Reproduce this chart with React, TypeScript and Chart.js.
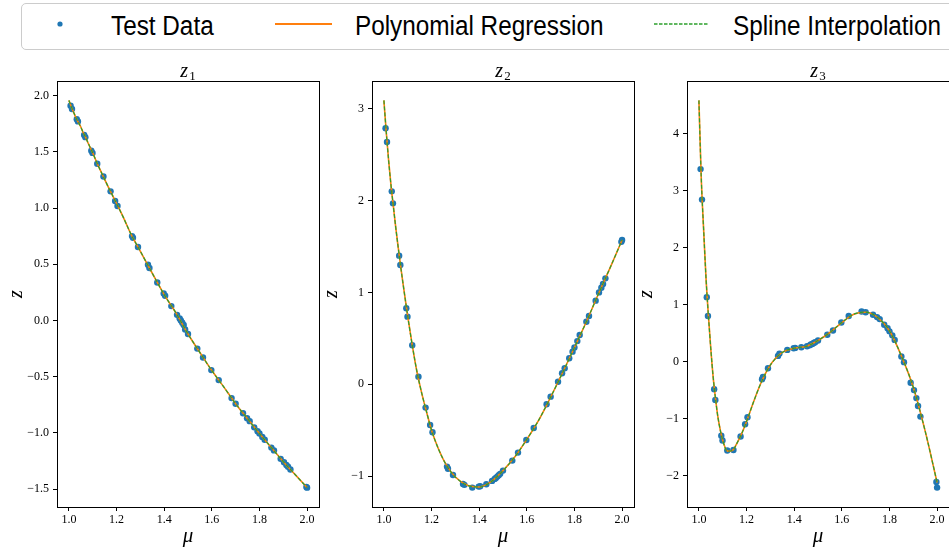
import React, { useEffect, useRef } from "react";
import { Chart, registerables } from "chart.js";

Chart.register(...registerables);

// ---------- data ----------
const muTest = [
  1.007, 1.013, 1.033, 1.038, 1.064, 1.069, 1.094, 1.099, 1.119, 1.145,
  1.175, 1.194, 1.204, 1.265, 1.269, 1.29, 1.332, 1.338, 1.371, 1.398,
  1.404, 1.43, 1.454, 1.465, 1.47, 1.476, 1.482, 1.488, 1.5, 1.539,
  1.563, 1.598, 1.629, 1.683, 1.7, 1.731, 1.748, 1.759, 1.778, 1.792,
  1.8, 1.812, 1.822, 1.85, 1.861, 1.889, 1.903, 1.913, 1.92, 1.93,
  1.997, 2.0,
];

const z1Test = [
  1.91, 1.88, 1.79, 1.77, 1.65, 1.63, 1.51, 1.49, 1.394, 1.28,
  1.148, 1.062, 1.018, 0.75, 0.735, 0.653, 0.496, 0.466, 0.338, 0.24,
  0.22, 0.128, 0.05, 0.018, 0.0, -0.02, -0.04, -0.08, -0.12, -0.25,
  -0.329, -0.441, -0.53, -0.69, -0.74, -0.824, -0.868, -0.895, -0.95, -0.985,
  -1.005, -1.035, -1.06, -1.13, -1.155, -1.23, -1.26, -1.285, -1.3, -1.325,
  -1.48, -1.486,
];

const z2Test = [
  2.786, 2.637, 2.1, 1.969, 1.4, 1.298, 0.827, 0.736, 0.424, 0.083,
  -0.254, -0.443, -0.522, -0.896, -0.92, -0.987, -1.085, -1.095, -1.125, -1.114,
  -1.11, -1.088, -1.052, -1.03, -1.02, -1.005, -0.99, -0.975, -0.94, -0.831,
  -0.744, -0.606, -0.476, -0.218, -0.135, 0.028, 0.12, 0.174, 0.283, 0.355,
  0.4, 0.47, 0.536, 0.681, 0.743, 0.91, 1.0, 1.05, 1.091, 1.153,
  1.55, 1.57,
];

const z3Test = [
  3.375, 2.84, 1.13, 0.8, -0.485, -0.672, -1.3, -1.385, -1.56, -1.55,
  -1.315, -1.1, -0.975, -0.31, -0.27, -0.117, 0.1, 0.14, 0.205, 0.235,
  0.24, 0.25, 0.27, 0.285, 0.3, 0.31, 0.325, 0.34, 0.37, 0.47,
  0.545, 0.685, 0.8, 0.877, 0.865, 0.82, 0.78, 0.745, 0.645, 0.585,
  0.53, 0.46, 0.38, 0.088, -0.01, -0.37, -0.5, -0.64, -0.78, -0.965,
  -2.11, -2.21,
];

const muCurve = [
  1.0, 1.01, 1.02, 1.03, 1.04, 1.05, 1.06, 1.07, 1.08, 1.1,
  1.12, 1.14, 1.16, 1.18, 1.2, 1.23, 1.26, 1.3, 1.35, 1.4,
  1.45, 1.5, 1.55, 1.6, 1.65, 1.7, 1.75, 1.8, 1.85, 1.9,
  1.95, 2.0,
];

const z1Poly = [
  1.957, 1.9, 1.85, 1.8, 1.76, 1.72, 1.67, 1.63, 1.58, 1.49,
  1.39, 1.3, 1.21, 1.125, 1.04, 0.91, 0.77, 0.615, 0.42, 0.23,
  0.065, -0.12, -0.285, -0.445, -0.59, -0.74, -0.873, -1.005, -1.13, -1.255,
  -1.37, -1.486,
];
const z1Spline = [
  1.957, 1.9, 1.85, 1.8, 1.76, 1.72, 1.67, 1.63, 1.58, 1.49,
  1.39, 1.3, 1.21, 1.125, 1.04, 0.91, 0.77, 0.615, 0.42, 0.23,
  0.065, -0.12, -0.285, -0.445, -0.59, -0.74, -0.873, -1.005, -1.13, -1.255,
  -1.37, -1.486,
];

const z2Poly = [
  3.09, 2.74, 2.43, 2.16, 1.93, 1.7, 1.49, 1.29, 1.1, 0.74,
  0.41, 0.12, -0.11, -0.31, -0.5, -0.71, -0.87, -1.01, -1.1, -1.118,
  -1.06, -0.94, -0.79, -0.6, -0.39, -0.14, 0.125, 0.4, 0.68, 0.98,
  1.27, 1.57,
];
const z2Spline = [
  3.09, 2.74, 2.43, 2.16, 1.93, 1.7, 1.49, 1.29, 1.1, 0.74,
  0.41, 0.12, -0.11, -0.31, -0.5, -0.71, -0.87, -1.01, -1.1, -1.118,
  -1.06, -0.94, -0.79, -0.6, -0.39, -0.14, 0.125, 0.4, 0.68, 0.98,
  1.27, 1.57,
];

const z3Poly = [
  4.58, 3.2, 2.3, 1.45, 0.8, 0.22, -0.28, -0.66, -0.98, -1.38,
  -1.57, -1.56, -1.43, -1.26, -1.05, -0.7, -0.38, -0.06, 0.16, 0.235,
  0.265, 0.37, 0.51, 0.685, 0.83, 0.866, 0.775, 0.54, 0.1, -0.45,
  -1.22, -2.12,
];
const z3Spline = [
  4.58, 3.2, 2.3, 1.45, 0.8, 0.22, -0.28, -0.66, -0.98, -1.38,
  -1.57, -1.56, -1.43, -1.26, -1.05, -0.7, -0.38, -0.06, 0.16, 0.235,
  0.265, 0.37, 0.51, 0.685, 0.83, 0.866, 0.775, 0.54, 0.1, -0.45,
  -1.22, -2.12,
];

const xTicks = [1.0, 1.2, 1.4, 1.6, 1.8, 2.0];
const yTicks1 = [-1.5, -1.0, -0.5, 0.0, 0.5, 1.0, 1.5, 2.0];
const yTicks2 = [-1, 0, 1, 2, 3];
const yTicks3 = [-2, -1, 0, 1, 2, 3, 4];

const legendLabels = ["Test Data", "Polynomial Regression", "Spline Interpolation"];

// ---------- styles ----------
const BLUE = "#1f77b4";
const ORANGE = "#ff7f0e";
const GREEN = "#2ca02c";
const SERIF = '"Liberation Serif", "DejaVu Serif", serif';
const SANS = '"Liberation Sans", "DejaVu Sans", sans-serif';

const PLOT_W = 262;
const PLOT_TOP = 81;
const PLOT_BOTTOM = 507;
const Y_AXIS_W = 50;
const X_AXIS_H = 41;
const PAD_TOP = 26;
const PAD_RIGHT = 10;
const CANVAS_TOP = PLOT_TOP - PAD_TOP;
const CANVAS_W = Y_AXIS_W + PLOT_W + PAD_RIGHT;
const CANVAS_H = PLOT_BOTTOM - CANVAS_TOP + X_AXIS_H;

const fmt = (v: number, d: number) => v.toFixed(d).replace("-", "\u2212");

type PanelProps = {
  left: number;
  sub: string;
  test: number[];
  poly: number[];
  spline: number[];
  yTicks: number[];
  yMin: number;
  yMax: number;
  decimals: number;
};

function Panel({ left, sub, test, poly, spline, yTicks, yMin, yMax, decimals }: PanelProps) {
  const ref = useRef<HTMLCanvasElement | null>(null);

  useEffect(() => {
    const canvas = ref.current;
    if (!canvas) return;

    const framePlugin = {
      id: "frame" + sub,
      afterDraw(chart: any) {
        const { ctx, chartArea } = chart;
        const { left: l, top: t, right: r, bottom: b } = chartArea;
        ctx.save();
        ctx.strokeStyle = "#000";
        ctx.lineWidth = 1;
        ctx.strokeRect(Math.round(l) + 0.5, Math.round(t) + 0.5, Math.round(r - l), Math.round(b - t));
        // title: z with subscript
        const cx = (l + r) / 2;
        ctx.fillStyle = "#000";
        ctx.textBaseline = "alphabetic";
        ctx.font = `italic 20px ${SERIF}`;
        const wz = ctx.measureText("z").width;
        ctx.font = `13px ${SERIF}`;
        const ws = ctx.measureText(sub).width;
        const x0 = cx - (wz + ws + 1) / 2;
        ctx.font = `italic 20px ${SERIF}`;
        ctx.fillText("z", x0, t - 4);
        ctx.font = `13px ${SERIF}`;
        ctx.fillText(sub, x0 + wz + 1, t - 1.5);
        ctx.restore();
      },
    };

    const chart = new Chart(canvas, {
      type: "line",
      data: {
        datasets: [
          {
            label: legendLabels[2],
            data: muCurve.map((x, i) => ({ x, y: spline[i] })),
            borderColor: GREEN,
            backgroundColor: GREEN,
            borderWidth: 1.2,
            borderDash: [4, 2],
            pointRadius: 0,
            cubicInterpolationMode: "monotone",
            fill: false,
            order: 1,
          },
          {
            label: legendLabels[1],
            data: muCurve.map((x, i) => ({ x, y: poly[i] })),
            borderColor: ORANGE,
            backgroundColor: ORANGE,
            borderWidth: 1.6,
            pointRadius: 0,
            cubicInterpolationMode: "monotone",
            fill: false,
            order: 2,
          },
          {
            label: legendLabels[0],
            data: muTest.map((x, i) => ({ x, y: test[i] })),
            showLine: false,
            pointRadius: 3.2,
            pointBorderWidth: 0,
            pointBackgroundColor: BLUE,
            pointBorderColor: BLUE,
            backgroundColor: BLUE,
            borderColor: BLUE,
            order: 3,
          },
        ],
      } as any,
      options: {
        animation: false,
        responsive: false,
        maintainAspectRatio: false,
        devicePixelRatio: 1,
        layout: { padding: { top: PAD_TOP, right: PAD_RIGHT, left: 0, bottom: 0 } },
        plugins: {
          legend: { display: false },
          tooltip: { enabled: false },
          title: { display: false },
        },
        scales: {
          x: {
            type: "linear",
            min: 0.95,
            max: 2.05,
            afterBuildTicks: (s: any) => {
              s.ticks = xTicks.map((v) => ({ value: v }));
            },
            afterFit: (s: any) => {
              s.height = X_AXIS_H;
            },
            ticks: {
              callback: (v: any) => fmt(Number(v), 1),
              font: { family: SERIF, size: 12 },
              color: "#000",
              padding: 2,
              maxRotation: 0,
              autoSkip: false,
            },
            grid: { drawOnChartArea: false, drawTicks: true, tickLength: 4, tickColor: "#000", color: "#000" },
            border: { display: true, color: "#000", width: 1 },
            title: {
              display: true,
              text: "\u03bc",
              color: "#000",
              font: { family: SERIF, size: 21, style: "italic", lineHeight: 1 },
              padding: { top: 0, bottom: 1 },
            },
          },
          y: {
            type: "linear",
            min: yMin,
            max: yMax,
            afterBuildTicks: (s: any) => {
              s.ticks = yTicks.map((v) => ({ value: v }));
            },
            afterFit: (s: any) => {
              s.width = Y_AXIS_W;
            },
            ticks: {
              callback: (v: any) => fmt(Number(v), decimals),
              font: { family: SERIF, size: 12 },
              color: "#000",
              padding: 4,
              autoSkip: false,
            },
            grid: { drawOnChartArea: false, drawTicks: true, tickLength: 4, tickColor: "#000", color: "#000" },
            border: { display: true, color: "#000", width: 1 },
            title: {
              display: true,
              text: "z",
              color: "#000",
              font: { family: SERIF, size: 20, style: "italic", lineHeight: 1 },
              padding: { top: 0, bottom: 0 },
            },
          },
        },
      } as any,
      plugins: [framePlugin],
    });
    return () => chart.destroy();
  }, []);

  return (
    <canvas
      ref={ref}
      width={CANVAS_W}
      height={CANVAS_H}
      style={{
        position: "absolute",
        left: left - Y_AXIS_W,
        top: CANVAS_TOP,
        width: CANVAS_W,
        height: CANVAS_H,
      }}
    />
  );
}

function Legend() {
  const textStyle = (left: number): React.CSSProperties => ({
    position: "absolute",
    left,
    top: 13,
    fontFamily: SANS,
    fontSize: 27,
    lineHeight: "27px",
    color: "#000",
    whiteSpace: "nowrap",
    transform: "scaleX(0.9)",
    transformOrigin: "0 0",
  });
  return (
    <>
      <div
        style={{
          position: "absolute",
          left: 21,
          top: 3,
          width: 960,
          height: 47,
          border: "1px solid #cccccc",
          borderRadius: 5,
          boxSizing: "border-box",
          background: "#fff",
        }}
      />
      <svg style={{ position: "absolute", left: 0, top: 0 }} width={949} height={50}>
        <circle cx={60} cy={24} r={2.6} fill={BLUE} />
        <line x1={275} y1={24} x2={332} y2={24} stroke={ORANGE} strokeWidth={2} />
        <line x1={654} y1={24} x2={708} y2={24} stroke={GREEN} strokeWidth={1.5} strokeDasharray="3.5 1.5" />
      </svg>
      <span style={textStyle(111)}>{legendLabels[0]}</span>
      <span style={textStyle(355)}>{legendLabels[1]}</span>
      <span style={textStyle(733)}>{legendLabels[2]}</span>
    </>
  );
}

export default function App() {
  return (
    <div
      style={{
        position: "fixed",
        left: 0,
        top: 0,
        width: 949,
        height: 548,
        overflow: "hidden",
        background: "#fff",
      }}
    >
      <Legend />
      <Panel left={57} sub="1" test={z1Test} poly={z1Poly} spline={z1Spline} yTicks={yTicks1} yMin={-1.658} yMax={2.129} decimals={1} />
      <Panel left={372} sub="2" test={z2Test} poly={z2Poly} spline={z2Spline} yTicks={yTicks2} yMin={-1.336} yMax={3.301} decimals={0} />
      <Panel left={687} sub="3" test={z3Test} poly={z3Poly} spline={z3Spline} yTicks={yTicks3} yMin={-2.55} yMax={4.92} decimals={0} />
    </div>
  );
}
